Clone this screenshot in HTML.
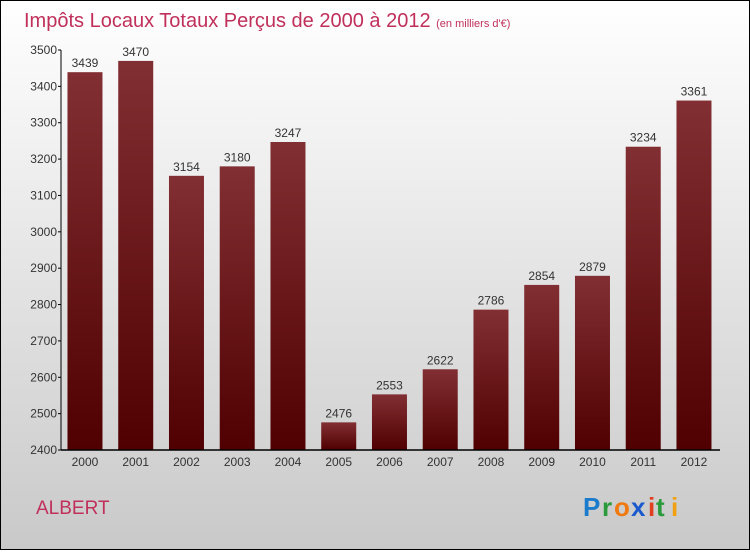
<!DOCTYPE html>
<html><head><meta charset="utf-8"><style>
html,body{margin:0;padding:0}
body{width:750px;height:550px;overflow:hidden;font-family:"Liberation Sans",sans-serif}
</style></head><body>
<svg id="chart" width="750" height="550" xmlns="http://www.w3.org/2000/svg">
<defs>
<linearGradient id="bg" x1="0" y1="0" x2="0" y2="1"><stop offset="0" stop-color="#ffffff"/><stop offset="1" stop-color="#c9c9c9"/></linearGradient>
<linearGradient id="bar" x1="0" y1="0" x2="0" y2="1"><stop offset="0" stop-color="#822f33"/><stop offset="1" stop-color="#500000"/></linearGradient>
</defs>
<rect x="0.5" y="0.5" width="749" height="549" fill="url(#bg)" stroke="#000"/>
<text x="24" y="27" font-size="20" fill="#c0305a">Impôts Locaux Totaux Perçus de 2000 à 2012 <tspan font-size="11">(en milliers d'€)</tspan></text>
<g id="bars"></g>
<g id="axes"></g>
<text x="36" y="514" font-size="19" fill="#c0305a">ALBERT</text>
<g font-size="26" font-weight="bold" font-family="'Liberation Sans',sans-serif">
<text x="583" y="516" fill="#1a7acc">P</text><text x="602" y="516" fill="#2a9a3a">r</text><text x="614" y="516" fill="#f07a10">o</text><text x="631" y="516" fill="#1a5acc">x</text><text x="648" y="516" fill="#e04020">i</text><text x="656" y="516" fill="#2a9a3a">t</text><text x="671" y="516" fill="#f0a010">i</text>
</g>
</svg>
<script>
const years=["2000","2001","2002","2003","2004","2005","2006","2007","2008","2009","2010","2011","2012"];
const values=[3439,3470,3154,3180,3247,2476,2553,2622,2786,2854,2879,3234,3361];
const yTicks=[2400,2500,2600,2700,2800,2900,3000,3100,3200,3300,3400,3500];
const NS="http://www.w3.org/2000/svg";
const x0=59.6,slot=50.75,bw=35,yMin=2400,yMax=3500,yTop=50,yBot=450;
const yScale=v=>yBot-(v-yMin)/(yMax-yMin)*(yBot-yTop);
const xc=i=>x0+slot*(i+0.5);
function mk(t,a,p){const e=document.createElementNS(NS,t);for(const k in a)e.setAttribute(k,a[k]);p.appendChild(e);return e;}
const gb=document.getElementById('bars'),ga=document.getElementById('axes');
values.forEach((v,i)=>{
 const r=mk('rect',{x:xc(i)-bw/2,y:yScale(v),width:bw,height:yBot-yScale(v),fill:'url(#bar)'},gb);
 
 
 const t=mk('text',{x:xc(i),y:yScale(v)-5,'text-anchor':'middle','font-size':12,fill:'#333'},gb);
 t.textContent=v;
 
 
 const xl=mk('text',{x:xc(i),y:yBot+16,'text-anchor':'middle','font-size':12,fill:'#333'},ga);
 xl.textContent=years[i];
 
 
});
const ya=mk('line',{x1:61,y1:yTop,x2:61,y2:yBot,stroke:'#000'},ga);


const xa=mk('line',{x1:61,y1:yBot,x2:720,y2:yBot,stroke:'#000','stroke-width':1.5},ga);


yTicks.forEach(v=>{
 mk('line',{x1:58,y1:yScale(v),x2:61,y2:yScale(v),stroke:'#000'},ga);
 const t=mk('text',{x:57,y:yScale(v)+4,'text-anchor':'end','font-size':12,fill:'#333'},ga);
 t.textContent=v;
 
 
});
</script>
</body></html>
